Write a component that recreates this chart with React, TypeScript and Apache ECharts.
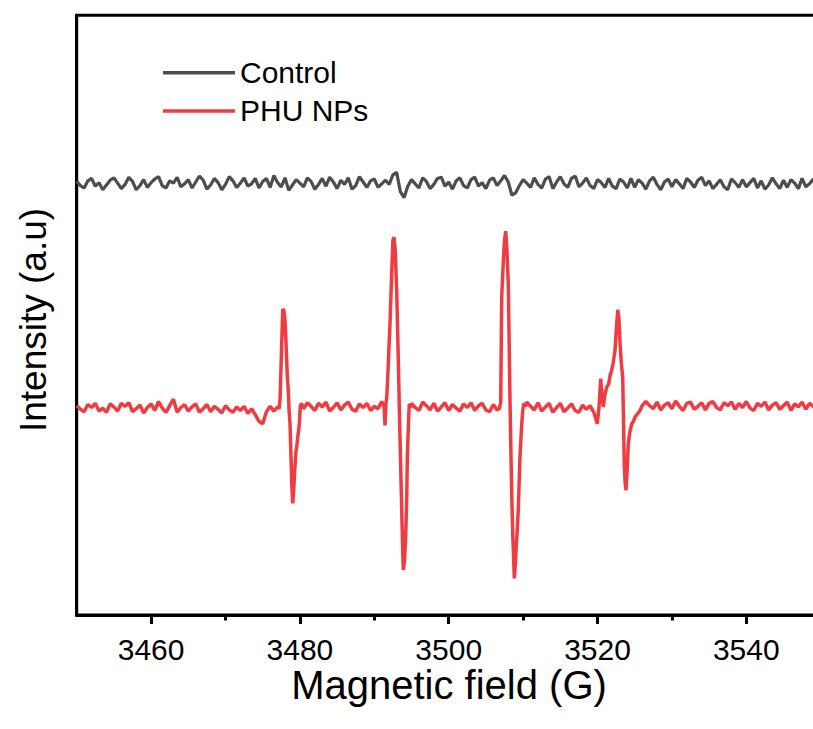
import React, { useEffect, useRef } from 'react';
import * as echarts from 'echarts';

// ---- axes ----
const fieldMin = 3450;
const fieldMax = 3550;
const majorTicks = [3460, 3480, 3500, 3520, 3540];
const minorTicks = [3470, 3490, 3510, 3530];
const xTitle = 'Magnetic field (G)';
const yTitle = 'Intensity (a.u)';
const seriesNames = ['Control', 'PHU NPs'];

// ---- Control spectrum: field 3450..3550 G, step 0.5 G ----
const controlStart = 3450;
const gridStep = 0.5;
const controlIntensity = [
  72.3, 71.6, 71.2, 72.4, 72.8, 71.5, 72.1, 70.9, 71.7, 72.5,
  72.9, 72.0, 71.1, 71.8, 73.0, 72.3, 70.9, 71.6, 72.6, 71.3,
  72.1, 72.7, 73.1, 71.6, 71.2, 72.4, 72.0, 73.0, 71.4, 71.9,
  72.6, 71.2, 72.2, 73.2, 72.5, 71.0, 71.7, 72.8, 72.1, 70.9,
  71.8, 73.1, 72.4, 71.3, 72.0, 72.9, 71.5, 71.9, 72.8, 71.2,
  72.3, 72.8, 71.3, 73.3, 72.1, 71.4, 72.9, 70.8, 71.7, 72.6,
  72.0, 71.4, 72.9, 72.3, 71.0, 71.8, 72.8, 71.5, 73.0, 72.2,
  71.1, 72.5, 71.8, 72.9, 71.0, 71.6, 73.1, 72.2, 71.3, 72.4,
  72.7, 71.3, 71.9, 72.5, 71.8, 73.4, 73.8, 70.6, 69.6, 71.5,
  72.6, 71.9, 71.2, 72.9, 72.3, 71.1, 71.8, 72.8, 73.0, 71.5,
  72.2, 71.0, 72.4, 72.9, 71.6, 71.2, 72.6, 73.0, 71.5, 72.1,
  71.1, 72.5, 72.9, 71.6, 72.4, 73.3, 72.2, 70.0, 70.4, 71.6,
  72.6, 72.0, 71.3, 72.9, 71.8, 71.2, 72.7, 73.1, 71.1, 72.2,
  73.1, 71.9, 71.3, 72.8, 73.2, 71.4, 72.0, 72.9, 71.6, 71.1,
  72.6, 72.1, 71.3, 72.8, 71.5, 71.1, 72.7, 72.2, 71.2, 72.8,
  71.3, 72.6, 72.0, 71.0, 72.4, 73.0, 71.8, 70.9, 72.2, 72.7,
  71.4, 72.6, 71.9, 71.1, 72.8, 72.2, 71.3, 72.5, 73.0, 71.6,
  72.4, 71.1, 71.8, 72.6, 71.4, 70.9, 72.7, 72.1, 71.3, 72.6,
  71.4, 72.1, 72.8, 71.2, 72.4, 71.0, 71.7, 72.9, 71.9, 71.1,
  72.5, 71.3, 72.6, 72.0, 71.1, 72.8, 71.4, 71.9, 72.7, 71.2,
  72.0,
];

// ---- PHU NPs spectrum: baseline stretches on a 0.5 G grid, peaks as [field, intensity] ----
const phuBaseAStart = 3450;
const phuBaseA = [
  34.9, 34.3, 33.9, 35.1, 34.6, 35.3, 34.0, 34.5, 33.8, 35.2,
  34.7, 34.0, 35.3, 34.8, 35.4, 33.9, 34.4, 35.0, 33.7, 34.6,
  35.2, 34.1, 35.6, 34.5, 33.8, 34.9, 36.0, 33.8, 34.6, 35.1,
  34.0, 34.7, 35.2, 33.8, 34.4, 35.1, 33.9, 34.8, 34.3, 33.7,
  34.9, 34.2, 33.8, 34.7, 34.1, 34.8, 33.6, 34.4, 33.4, 32.3,
  31.9, 33.9, 34.8, 34.0, 34.7,
];
const phuPeak1 = [
  [3477.2, 34.4], [3477.33, 36.0], [3477.42, 39.6], [3477.55, 45.0], [3477.7, 51.0],
  [3477.85, 50.8], [3478.0, 49.0], [3478.13, 45.5], [3478.3, 40.0], [3478.44, 37.4],
  [3478.55, 34.0], [3478.67, 31.9], [3478.8, 26.5], [3478.92, 21.5], [3479.03, 18.6],
  [3479.15, 20.5], [3479.3, 24.0], [3479.45, 27.0], [3479.57, 28.0], [3479.75, 30.0],
  [3479.92, 31.9], [3480.05, 34.8], [3480.2, 35.3],
];
const phuBaseBStart = 3480.5;
const phuBaseB = [
  34.4, 35.4, 34.8, 34.1, 35.3, 34.7, 35.5, 34.0, 34.6, 35.4,
  34.2, 35.0, 35.5, 34.3, 34.0, 35.2, 34.6, 35.3, 34.1, 34.8,
  34.4, 35.6,
];
const phuPeak2 = [
  [3491.3, 34.9], [3491.44, 31.6], [3491.55, 35.0], [3491.67, 36.3], [3491.8, 39.5],
  [3491.95, 44.0], [3492.11, 48.6], [3492.3, 55.5], [3492.5, 62.5], [3492.65, 63.0],
  [3492.8, 61.0], [3493.01, 54.1], [3493.2, 44.0], [3493.36, 34.7], [3493.52, 26.0],
  [3493.68, 18.0], [3493.8, 11.5], [3493.9, 7.5], [3494.05, 9.0], [3494.2, 12.5],
  [3494.35, 19.0], [3494.44, 26.3], [3494.58, 31.5], [3494.7, 35.2], [3494.9, 34.6],
];
const phuBaseCStart = 3495.0;
const phuBaseC = [
  35.3, 34.6, 34.1, 35.5, 34.9, 34.2, 35.3, 34.0, 34.7, 35.4,
  34.1, 35.1, 34.5, 34.0, 35.2, 34.6, 35.4, 34.1, 34.9, 35.3,
  34.2, 33.9, 35.1, 34.2,
];
const phuPeak3 = [
  [3506.8, 34.4], [3506.99, 35.5], [3507.12, 52.9], [3507.34, 59.0], [3507.5, 62.5],
  [3507.66, 64.0], [3507.8, 61.5], [3508.01, 55.2], [3508.12, 46.0], [3508.24, 35.8],
  [3508.35, 28.0], [3508.47, 20.2], [3508.62, 13.0], [3508.82, 6.1], [3509.0, 9.5],
  [3509.2, 14.0], [3509.35, 17.5], [3509.58, 26.3], [3509.8, 31.5], [3509.95, 34.1],
  [3510.1, 35.3], [3510.3, 34.8],
];
const phuBaseDStart = 3510.5;
const phuBaseD = [
  35.5, 34.8, 34.2, 35.4, 34.0, 34.7, 35.3, 33.8, 34.6, 35.3,
  33.9, 34.5, 35.2, 34.1, 33.8, 35.0, 34.3, 34.9, 33.8,
];
const phuPeak4 = [
  [3519.97, 31.9], [3520.2, 34.6], [3520.43, 39.4], [3520.6, 36.5], [3520.78, 34.7],
  [3521.0, 36.8], [3521.24, 38.0], [3521.5, 38.5], [3521.7, 40.0], [3521.91, 40.8],
  [3522.1, 42.0], [3522.35, 44.1], [3522.55, 48.0], [3522.72, 50.9], [3522.88, 49.5],
  [3523.03, 45.2], [3523.2, 42.0], [3523.39, 39.6], [3523.5, 32.0], [3523.6, 25.0],
  [3523.72, 22.0], [3523.83, 20.8], [3523.98, 24.0], [3524.14, 28.6], [3524.35, 30.5],
  [3524.6, 31.9], [3524.8, 32.2], [3525.04, 33.0], [3525.3, 33.4], [3525.71, 34.1],
  [3526.0, 34.9],
];
const phuBaseEStart = 3526.5;
const phuBaseE = [
  35.6, 34.9, 34.4, 35.5, 34.2, 35.0, 35.4, 34.4, 35.7, 34.8,
  34.1, 35.3, 35.5, 34.3, 34.8, 35.4, 34.2, 35.3, 35.6, 34.6,
  34.2, 35.4, 34.9, 35.5, 34.3, 35.3, 34.6, 35.6, 34.5, 34.1,
  35.3, 34.8, 35.5, 34.2, 35.0, 35.4, 34.3, 34.9, 35.5, 34.1,
  35.2, 34.7, 35.5, 34.3, 35.3, 34.8, 34.4, 35.0,
];

const onGrid = (start: number, values: number[]) =>
  values.map((v, i) => [start + i * gridStep, v]);

const controlData = onGrid(controlStart, controlIntensity);
const phuData = [
  ...onGrid(phuBaseAStart, phuBaseA),
  ...phuPeak1,
  ...onGrid(phuBaseBStart, phuBaseB),
  ...phuPeak2,
  ...onGrid(phuBaseCStart, phuBaseC),
  ...phuPeak3,
  ...onGrid(phuBaseDStart, phuBaseD),
  ...phuPeak4,
  ...onGrid(phuBaseEStart, phuBaseE),
];

const FONT = '"Liberation Sans", Arial, Helvetica, sans-serif';
const GRAY = '#4d4d4d';
const RED = '#ee3c42';

export default function App() {
  const ref = useRef<HTMLDivElement>(null);
  useEffect(() => {
    if (!ref.current) return;
    const chart = echarts.init(ref.current, undefined, { renderer: 'svg' });
    chart.setOption({
      animation: false,
      backgroundColor: '#ffffff',
      grid: {
        left: 76.7,
        top: 15.3,
        width: 744,
        bottom: 114,
        show: true,
        borderColor: '#000',
        borderWidth: 3,
        backgroundColor: 'transparent',
      },
      legend: {
        orient: 'vertical',
        left: 158,
        top: 48.5,
        icon: 'rect',
        itemWidth: 72,
        itemHeight: 3.5,
        itemGap: 0,
        data: seriesNames,
        textStyle: { fontFamily: FONT, fontSize: 30, color: '#000', lineHeight: 38.3 },
      },
      xAxis: [
        {
          type: 'value',
          min: fieldMin,
          max: fieldMax,
          position: 'bottom',
          axisLine: { show: true, onZero: false, lineStyle: { color: '#000', width: 3 } },
          axisTick: { show: true, customValues: majorTicks, length: 9, lineStyle: { color: '#000', width: 3 } },
          axisLabel: {
            show: true,
            customValues: majorTicks,
            margin: 19,
            fontFamily: FONT,
            fontSize: 30,
            lineHeight: 30,
            color: '#000',
            formatter: (v: number) => String(v),
          },
          splitLine: { show: false },
        },
        {
          type: 'value',
          min: fieldMin,
          max: fieldMax,
          position: 'bottom',
          axisLine: { show: false, onZero: false },
          axisTick: { show: true, customValues: minorTicks, length: 5.5, lineStyle: { color: '#000', width: 3 } },
          axisLabel: { show: false },
          splitLine: { show: false },
        },
      ],
      yAxis: {
        type: 'value',
        min: 0,
        max: 100,
        axisLine: { show: true, onZero: false, lineStyle: { color: '#000', width: 3 } },
        axisTick: { show: false },
        axisLabel: { show: false },
        splitLine: { show: false },
      },
      graphic: [
        {
          type: 'text',
          x: 449,
          y: 685,
          style: {
            text: xTitle,
            fontFamily: FONT,
            fontSize: 40,
            lineHeight: 38,
            fill: '#000',
            align: 'center',
            verticalAlign: 'middle',
          },
        },
        {
          type: 'text',
          x: 33,
          y: 320,
          rotation: Math.PI / 2,
          style: {
            text: yTitle,
            fontFamily: FONT,
            fontSize: 37,
            fill: '#000',
            align: 'center',
            verticalAlign: 'middle',
          },
        },
      ],
      series: [
        {
          name: seriesNames[0],
          type: 'line',
          xAxisIndex: 0,
          data: controlData,
          symbol: 'none',
          lineStyle: { color: GRAY, width: 3.2 },
          itemStyle: { color: GRAY },
        },
        {
          name: seriesNames[1],
          type: 'line',
          xAxisIndex: 0,
          data: phuData,
          symbol: 'none',
          lineStyle: { color: RED, width: 3.5 },
          itemStyle: { color: RED },
        },
      ],
    });
    return () => chart.dispose();
  }, []);
  return (
    <div style={{ position: 'absolute', left: 0, top: 0, width: 813, height: 729, overflow: 'hidden' }}>
      <div ref={ref} style={{ width: 840, height: 729 }} />
    </div>
  );
}
